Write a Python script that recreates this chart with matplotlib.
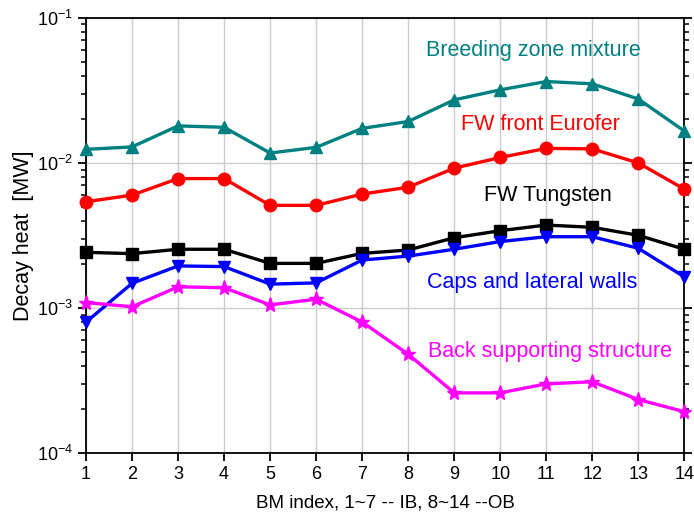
import matplotlib
matplotlib.use("Agg")
import matplotlib.pyplot as plt
from matplotlib.ticker import LogLocator, NullFormatter

plt.rcParams['font.family'] = ['Liberation Sans', 'DejaVu Sans']
plt.rcParams['mathtext.fontset'] = 'custom'
plt.rcParams['mathtext.rm'] = 'Liberation Sans'
plt.rcParams['mathtext.it'] = 'Liberation Sans'

bm = list(range(1, 15))
breeding = [0.0124, 0.0129, 0.0180, 0.0176, 0.0117, 0.0128, 0.0173,
            0.0193, 0.0272, 0.0319, 0.0364, 0.0351, 0.0276, 0.0166]
eurofer = [0.0054, 0.0060, 0.0078, 0.0078, 0.0051, 0.0051, 0.0061,
           0.0068, 0.0092, 0.0109, 0.0126, 0.0125, 0.0100, 0.0066]
tungsten = [0.00242, 0.00237, 0.00254, 0.00254, 0.00203, 0.00203, 0.00238,
            0.00251, 0.00305, 0.00341, 0.00373, 0.00360, 0.00317, 0.00254]
caps = [0.00080, 0.00148, 0.00195, 0.00193, 0.00146, 0.00149, 0.00214,
        0.00228, 0.00254, 0.00287, 0.00310, 0.00310, 0.00258, 0.00164]
back = [0.00109, 0.00102, 0.00140, 0.00138, 0.00105, 0.00115, 0.00080,
        0.00048, 0.00026, 0.00026, 0.00030, 0.00031, 0.000234, 0.000193]

teal = '#008080'

fig = plt.figure(figsize=(6.94, 5.25), dpi=100)
ax = fig.add_axes([0.124, 0.137, 0.862, 0.829])

ax.grid(True, which='major', color='#cccccc', linewidth=1.0, zorder=0)
ax.set_axisbelow(True)

lw, ms = 2.4, 8
ax.plot(bm, breeding, color=teal, marker='^', lw=lw, ms=ms + 1, clip_on=False, zorder=3)
ax.plot(bm, eurofer, color='red', marker='o', lw=lw, ms=ms + 1, clip_on=False, zorder=3)
ax.plot(bm, tungsten, color='black', marker='s', lw=lw, ms=ms, clip_on=False, zorder=3)
ax.plot(bm, caps, color='blue', marker='v', lw=lw, ms=ms + 1, clip_on=False, zorder=3)
ax.plot(bm, back, color='magenta', marker='*', lw=lw, ms=ms + 3, clip_on=False, zorder=3)

fs = 15.5
ax.text(10.72, 0.060, 'Breeding zone mixture', color=teal, fontsize=fs, ha='center', va='center')
ax.text(10.87, 0.0183, 'FW front Eurofer', color='red', fontsize=fs, ha='center', va='center')
ax.text(11.04, 0.0060, 'FW Tungsten', color='black', fontsize=fs, ha='center', va='center')
ax.text(10.70, 0.00149, 'Caps and lateral walls', color='blue', fontsize=fs, ha='center', va='center')
ax.text(11.09, 0.000505, 'Back supporting structure', color='magenta', fontsize=fs, ha='center', va='center')

ax.set_yscale('log')
ax.set_ylim(1e-4, 1e-1)
ax.set_xlim(1, 14)
ax.set_xticks(bm)
ax.yaxis.set_major_locator(LogLocator(base=10, numticks=10))
ax.yaxis.set_minor_locator(LogLocator(base=10, subs=range(2, 10), numticks=10))
ax.yaxis.set_minor_formatter(NullFormatter())

ax.tick_params(axis='both', which='major', direction='out', length=6, width=1.3,
               labelsize=13, right=True, color='black')
ax.tick_params(axis='y', which='minor', direction='out', length=3.5, width=1.1, right=True)
ax.tick_params(axis='x', which='minor', bottom=False)
for sp in ax.spines.values():
    sp.set_linewidth(1.3)

ax.set_xlabel('BM index, 1~7 -- IB, 8~14 --OB', fontsize=13.5, labelpad=8)
ax.set_ylabel('Decay heat  [MW]', fontsize=15.5, labelpad=2)

fig.savefig('out.png', dpi=100)
